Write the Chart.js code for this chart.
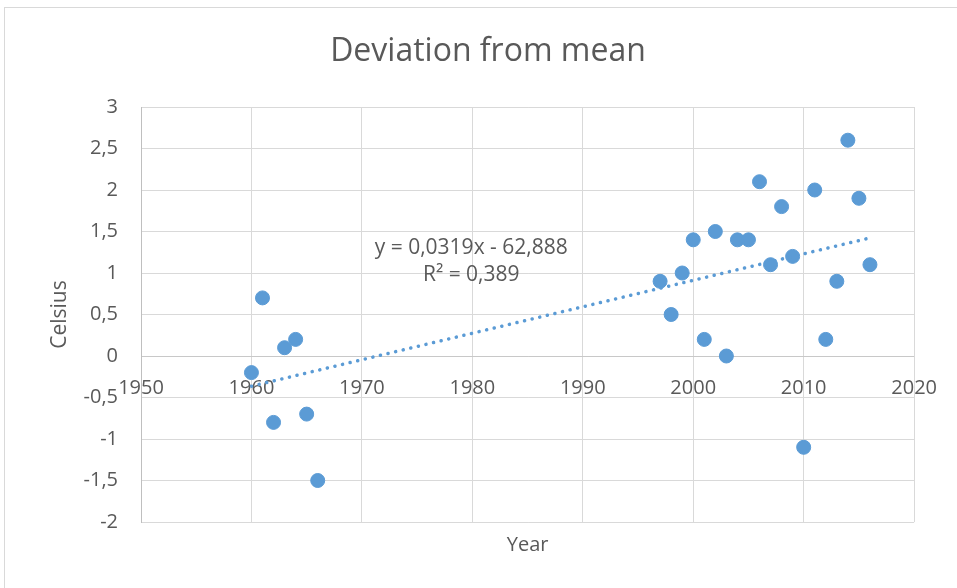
<!DOCTYPE html>
<html>
<head>
<meta charset="utf-8">
<script src="https://cdn.jsdelivr.net/npm/chart.js@4.4.1/dist/chart.umd.min.js"></script>
<style>
  html, body { margin: 0; padding: 0; background: #fff; overflow: hidden; }
  #wrap { position: relative; width: 957px; height: 588px; }
  #frame { position: absolute; left: 4px; top: 7px; width: 970px; height: 600px; border: 1px solid #d9d9d9; box-sizing: border-box; pointer-events: none; }
</style>
</head>
<body>
<div id="wrap">
  <canvas id="chart" width="957" height="588"></canvas>
  <div id="frame"></div>
</div>
<script>
// --- Dados ---
const years = [1960, 1961, 1962, 1963, 1964, 1965, 1966,
    1997, 1998, 1999, 2000, 2001, 2002, 2003, 2004, 2005, 2006,
    2007, 2008, 2009, 2010, 2011, 2012, 2013, 2014, 2015, 2016];
const deviation = [-0.2, 0.7, -0.8, 0.1, 0.2, -0.7, -1.5,
    0.9, 0.5, 1.0, 1.4, 0.2, 1.5, 0.0, 1.4, 1.4, 2.1,
    1.1, 1.8, 1.2, -1.1, 2.0, 0.2, 0.9, 2.6, 1.9, 1.1];

// linha de tendência (coeficientes do rótulo do gráfico)
const trendSlope = 0.0319;
const trendIntercept = -62.888;
const trendYears = [1960, 2016];
const trendLabel = ['y = 0,0319x - 62,888', 'R² = 0,389'];

const chartTitle = 'Deviation from mean';
const xTicks = [1950, 1960, 1970, 1980, 1990, 2000, 2010, 2020];
const yMin = -2, yMax = 3, yStep = 0.5;

const BLUE = '#5b9bd5';
const TEXT = '#595959';
const GRID = '#d9d9d9';
const FONT = "'Open Sans', sans-serif";

const points = years.map((y, i) => ({ x: y, y: deviation[i] }));
const trendPoints = trendYears.map(y => ({ x: y, y: trendSlope * y + trendIntercept }));

const fmt = v => String(Math.round(v * 10) / 10).replace('.', ',');

// título centrado na área do gráfico (como no Excel) + rótulo da equação
const textOverlay = {
    id: 'textOverlay',
    afterDatasetsDraw(chart) {
        const { ctx, scales } = chart;
        ctx.save();
        ctx.fillStyle = TEXT;
        ctx.textAlign = 'center';
        ctx.textBaseline = 'middle';

        ctx.font = `32px ${FONT}`;
        ctx.fillText(chartTitle, 488, 52);

        const x = scales.x.getPixelForValue(1979.9);
        ctx.font = `21px ${FONT}`;
        ctx.fillText(trendLabel[0], x, scales.y.getPixelForValue(1.30));
        ctx.fillText(trendLabel[1], x, scales.y.getPixelForValue(0.97));
        ctx.restore();
    }
};

const ctx = document.getElementById('chart').getContext('2d');
new Chart(ctx, {
    type: 'scatter',
    data: {
        datasets: [{
            label: 'Trend',
            data: trendPoints,
            showLine: true,
            borderColor: BLUE,
            borderWidth: 3.5,
            borderDash: [0.1, 7.7],
            borderCapStyle: 'round',
            pointRadius: 0,
            order: 0
        }, {
            label: 'Deviation',
            data: points,
            backgroundColor: BLUE,
            borderColor: BLUE,
            pointRadius: 7,
            pointHoverRadius: 7,
            order: 1
        }]
    },
    options: {
        responsive: false,
        animation: false,
        layout: { padding: { left: 0, right: 41, top: 107, bottom: 0 } },
        plugins: {
            legend: { display: false },
            tooltip: { enabled: false },
            title: { display: false }
        },
        scales: {
            x: {
                type: 'linear',
                min: 1950, max: 2020,
                afterBuildTicks: s => { s.ticks = xTicks.map(v => ({ value: v })); },
                grid: { color: GRID, drawTicks: false },
                border: { display: false },
                ticks: { display: false },
                title: {
                    display: true, text: 'Year', color: TEXT,
                    font: { family: FONT, size: 20 },
                    padding: { top: 11, bottom: 31 }
                }
            },
            xLabels: {
                type: 'linear',
                axis: 'x',
                position: { y: 0 },
                min: 1950, max: 2020,
                afterBuildTicks: s => { s.ticks = xTicks.map(v => ({ value: v })); },
                grid: { display: false, drawTicks: false },
                border: { display: false },
                ticks: {
                    color: TEXT, font: { family: FONT, size: 20 }, padding: 20, maxRotation: 0,
                    callback: v => String(v)
                }
            },
            y: {
                type: 'linear',
                min: yMin, max: yMax,
                ticks: {
                    stepSize: yStep,
                    color: TEXT,
                    font: { family: FONT, size: 20 },
                    padding: 23,
                    callback: v => fmt(v)
                },
                grid: {
                    drawTicks: false,
                    color: c => (c.tick && c.tick.value === 0 ? '#c8c8c8' : GRID)
                },
                border: { display: true, color: '#bfbfbf' },
                title: {
                    display: true, text: 'Celsius', color: TEXT,
                    font: { family: FONT, size: 21 },
                    padding: { top: 47, bottom: 0 }
                },
                afterFit: s => { s.width = 141; }
            }
        }
    },
    plugins: [textOverlay]
});
</script>
</body>
</html>
